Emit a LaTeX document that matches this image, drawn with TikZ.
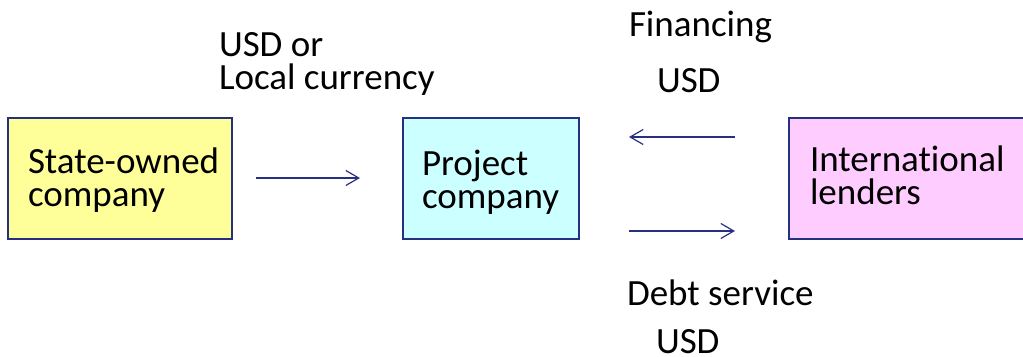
\documentclass[tikz,border=0pt]{standalone}
\usepackage{fontspec}
\setmainfont{Carlito}[Ligatures={NoCommon}]
\usetikzlibrary{arrows.meta}
\definecolor{navy}{RGB}{38,48,128}
\definecolor{boxyellow}{RGB}{255,255,153}
\definecolor{boxcyan}{RGB}{204,255,255}
\definecolor{boxpink}{RGB}{255,204,255}
\tikzset{
  lbl/.style={font=\fontsize{18.5}{16.75}\selectfont, inner sep=0pt, outer sep=0pt, align=left, anchor=base west, text=black},
  entity/.style={draw=navy, line width=1pt, inner sep=0pt, anchor=north west},
  flow/.style={draw=navy, line width=0.6pt, -{Straight Barb[length=6.5pt,width=7.5pt,line width=0.6pt]}}
}
\begin{document}
\begin{tikzpicture}[x=0.5pt,y=-0.5pt]
\useasboundingbox (0,0) rectangle (1023,357);
\clip (0,0) rectangle (1023,357);
% boxes
\node[entity, fill=boxyellow, minimum width=112pt, minimum height=60.5pt] (soc) at (7,117) {};
\node[entity, fill=boxcyan, minimum width=88pt, minimum height=60.5pt] (proj) at (402,117) {};
\node[entity, fill=boxpink, minimum width=125pt, minimum height=60.5pt] (lend) at (788,117) {};
% box texts (anchor at baseline of last line)
\node[lbl] (soct) at (28,207) {State-owned\\company};
\node[lbl] (projt) at (422,209) {Project\\company};
\node[lbl] (lendt) at (810,205) {International\\lenders};
% labels
\node[lbl] (cur) at (219,90) {USD or\\Local currency};
\node[lbl] (fin) at (629,37) {Financing};
\node[lbl] (finusd) at (657,93) {USD};
\node[lbl] (debt) at (627,306) {Debt service};
\node[lbl] (debtusd) at (656,354) {USD};
% arrows
\draw[flow, shorten <=11.5pt, shorten >=21pt] (soc.east |- 0,178) -- (proj.west |- 0,178);
\draw[flow, shorten <=26.5pt, shorten >=24.5pt] (lend.west |- 0,137) -- (proj.east |- 0,137);
\draw[flow, shorten <=24.5pt, shorten >=26.5pt] (proj.east |- 0,231) -- (lend.west |- 0,231);
\end{tikzpicture}
\end{document}
